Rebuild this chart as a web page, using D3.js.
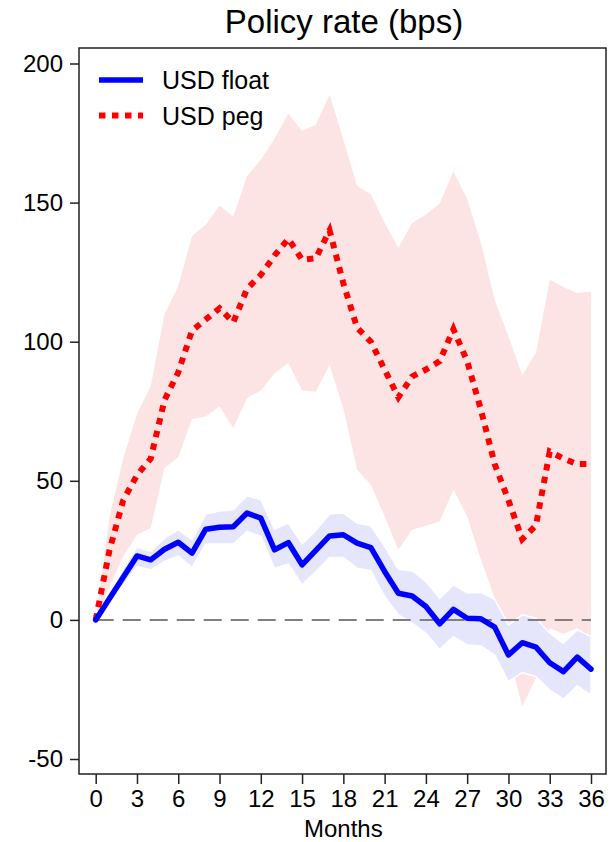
<!DOCTYPE html>
<html>
<head>
<meta charset="utf-8">
<script src="https://cdn.jsdelivr.net/npm/d3@7"></script>
<style>
	body { margin: 0; background: #fff; }
	svg text { font-family: "Liberation Sans", Arial, Helvetica, sans-serif; fill: #000; }
</style>
</head>
<body>
<main></main>
<script>
// months since shock
const months = d3.range(0, 37);
const xTicks = [0, 3, 6, 9, 12, 15, 18, 21, 24, 27, 30, 33, 36];
const yTicks = [-50, 0, 50, 100, 150, 200];

// USD float: response and band
const floatMean = [0, 7.7, 15.3, 23.0, 21.6, 25.4, 27.9, 24.0, 32.6, 33.3, 33.5, 38.4, 36.6, 25.2, 27.8, 19.8, 25.0, 30.2, 30.6,
	27.6, 26.0, 17.4, 9.6, 8.6, 4.8, -1.4, 3.8, 0.6, 0.4, -2.6, -12.6, -8.2, -9.8, -15.4, -18.6, -13.4, -17.7];
const floatHi = [0, 9, 18.5, 26.1, 24.6, 29.4, 32.4, 28.8, 38.1, 39.1, 39.6, 44.6, 43.2, 32.6, 34.8, 27.3, 32.1, 38.1, 38.4,
	34.8, 33.8, 26.4, 18.2, 17.6, 13.8, 7.8, 12.6, 9.8, 9.8, 7.4, -1.8, 1.8, 0.6, -4.8, -8.4, -3.6, -6.0];
const floatLo = [0, 6.5, 12.5, 19.2, 18, 21, 23, 18.9, 27.3, 27.3, 27.3, 31.8, 30, 18.5, 20.1, 12.6, 17.4, 22.4, 22.4,
	18.6, 17.7, 8.4, 1.8, -1.2, -4.8, -10.6, -6, -9, -9.4, -12.6, -22.2, -18.9, -20.4, -25.2, -28.5, -23.7, -27];

// USD peg: response and band
const pegMean = [0, 25, 43, 52, 58, 79, 89, 104, 108, 112, 107, 119, 124, 131, 137, 129.5, 130, 140, 121,
	105, 100, 90, 80, 87.5, 90, 93, 104.5, 93, 75.5, 56, 43, 29, 34, 60.5, 58, 56, 56];
const pegHi = [0, 37, 58, 74, 84, 110, 120, 138, 142, 149, 145, 159.5, 165.5, 173, 182, 175.7, 178, 188.8, 172.7,
	156, 153, 142.7, 133.7, 142.7, 145.7, 149.6, 161.3, 151.3, 135.5, 115, 102, 88, 96, 122.3, 119.7, 117.5, 118];
const pegLo = [0, 12, 22.8, 30.6, 33, 54.6, 58.5, 72.2, 73.1, 76.7, 69, 79.7, 82.5, 88.7, 92.3, 82.5, 82, 91.7, 76,
	54, 48.6, 37.2, 25.2, 32.4, 33.8, 35.4, 46.8, 37.2, 21.6, 8, -12, -31, -21, -3, -5, -3, -7];

const seriesNames = ["USD float", "USD peg"];

const w = 613,
	h = 842,
	frame = {left: 79, right: 606, top: 48, bottom: 774},
	font = 24;

const svg = d3.select("main")
	.append("svg")
	.attr("width", w)
	.attr("height", h);

const xScale = d3.scaleLinear()
	.domain([0, 36])
	.range([95.7, 591]);
const yScale = d3.scaleLinear()
	.domain([-50, 200])
	.range([759, 63.5]);

const band = (hi, lo) => d3.area()
	.x((d, i) => xScale(months[i]))
	.y0((d, i) => yScale(lo[i]))
	.y1((d, i) => yScale(hi[i]));
const line = (vals) => d3.line()
	.x((d, i) => xScale(months[i]))
	.y((d, i) => yScale(vals[i]));

// bands
svg.append("path")
	.attr("d", band(pegHi, pegLo)(months))
	.attr("fill", "#fde4e4")
	.attr("stroke", "none");
svg.append("path")
	.attr("d", band(floatHi, floatLo)(months))
	.attr("fill", "#e5e5fc")
	.attr("stroke", "#fff")
	.attr("stroke-width", 1.5);

// zero line
svg.append("line")
	.attr("x1", xScale(0))
	.attr("x2", xScale(36))
	.attr("y1", yScale(0))
	.attr("y2", yScale(0))
	.attr("stroke", "#808080")
	.attr("stroke-width", 2)
	.attr("stroke-dasharray", "18,9");

// lines
svg.append("path")
	.attr("d", line(pegMean)(months))
	.attr("fill", "none")
	.attr("stroke", "#ff0000")
	.attr("stroke-width", 6)
	.attr("stroke-dasharray", "6.5,6.5");
svg.append("path")
	.attr("d", line(floatMean)(months))
	.attr("fill", "none")
	.attr("stroke", "#0000ff")
	.attr("stroke-width", 5.5)
	.attr("stroke-linejoin", "round")
	.attr("stroke-linecap", "round");

// frame
svg.append("rect")
	.attr("x", frame.left)
	.attr("y", frame.top)
	.attr("width", frame.right - frame.left)
	.attr("height", frame.bottom - frame.top)
	.attr("fill", "none")
	.attr("stroke", "#222")
	.attr("stroke-width", 1.5);

// axes
const yAxis = d3.axisLeft(yScale)
	.tickValues(yTicks)
	.tickSize(9)
	.tickPadding(7)
	.tickFormat((d) => String(d));
const gy = svg.append("g")
	.attr("transform", "translate(" + frame.left + ",0)")
	.call(yAxis);

const xAxis = d3.axisBottom(xScale)
	.tickValues(xTicks)
	.tickSize(10)
	.tickPadding(6)
	.tickFormat((d) => String(d));
const gx = svg.append("g")
	.attr("transform", "translate(0," + frame.bottom + ")")
	.call(xAxis);

[gx, gy].forEach((g) => {
	g.select(".domain").remove();
	g.selectAll(".tick line").attr("stroke", "#222").attr("stroke-width", 1.5);
	g.selectAll(".tick text")
		.style("font-size", font + "px")
		.style("font-family", "'Liberation Sans', Arial, Helvetica, sans-serif")
		.attr("fill", "#000");
});

// titles
svg.append("text")
	.attr("x", 344)
	.attr("y", 33)
	.attr("text-anchor", "middle")
	.style("font-size", "33px")
	.text("Policy rate (bps)");

svg.append("text")
	.attr("x", (xScale(0) + xScale(36)) / 2)
	.attr("y", 837)
	.attr("text-anchor", "middle")
	.style("font-size", font + "px")
	.text("Months");

// legend
const legend = svg.append("g");
const legendStyle = [
	{color: "#0000ff", width: 5.5, dash: null},
	{color: "#ff0000", width: 6, dash: "6.5,6.5"}
];
seriesNames.forEach((name, i) => {
	const ly = 80 + i * 35.5;
	legend.append("line")
		.attr("x1", 99)
		.attr("x2", 143)
		.attr("y1", ly)
		.attr("y2", ly)
		.attr("stroke", legendStyle[i].color)
		.attr("stroke-width", legendStyle[i].width)
		.attr("stroke-dasharray", legendStyle[i].dash);
	legend.append("text")
		.attr("x", 162)
		.attr("y", ly + 9)
		.style("font-size", "25px")
		.text(name);
});
</script>
</body>
</html>
